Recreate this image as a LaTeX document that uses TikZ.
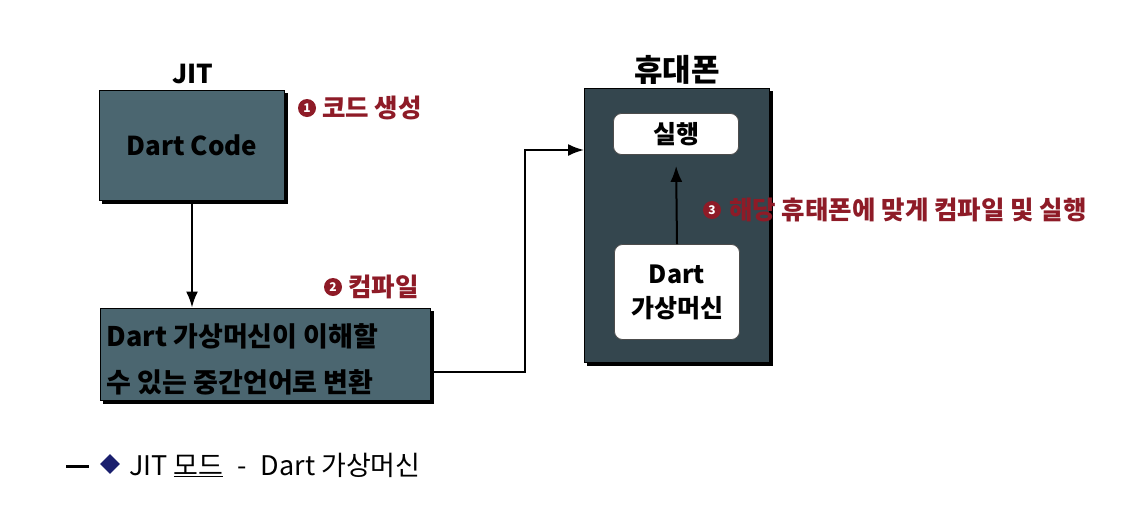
\documentclass[tikz,border=0pt]{standalone}
\usepackage{fontspec}
\setmainfont{Noto Sans CJK KR}
\usetikzlibrary{arrows.meta,shadows,shapes.geometric}
\definecolor{boxteal}{HTML}{4B6670}
\definecolor{phonebox}{HTML}{34464E}
\definecolor{labred}{HTML}{8E1B27}
\definecolor{navy}{HTML}{1A1F6E}
\begin{document}
\begin{tikzpicture}[x=1pt,y=-1pt,
  darkbox/.style={draw=black,line width=1pt,fill=boxteal,
    copy shadow={shadow xshift=3pt,shadow yshift=-3pt,fill=black,draw=black},
    font=\fontsize{26}{30}\selectfont\bfseries, inner sep=0pt},
  whitebox/.style={draw=black!70,line width=0.8pt,fill=white,rounded corners=8pt,
    font=\fontsize{25}{34}\selectfont\bfseries, align=center, inner sep=0pt},
  title/.style={font=\fontsize{26}{30}\selectfont\bfseries},
  conn/.style={line width=2pt,-{Latex[length=16pt,width=12pt]}},
  numdot/.style={circle,fill=labred,inner sep=0pt,minimum size=18pt,
    text=white,font=\fontsize{12}{12}\selectfont\bfseries},
  redlab/.style={text=labred,font=\fontsize{25.5}{29}\selectfont\bfseries,anchor=west,inner sep=0pt}
]
\useasboundingbox (0,0) rectangle (1142,504);
\fill[white] (0,0) rectangle (1142,504);

% JIT side
\node[title] (jit) at (193,74) {JIT};
\node[darkbox,minimum width=185pt,minimum height=110pt] (code) at (192,145) {Dart Code};
\node[darkbox,minimum width=330pt,minimum height=92pt] (vmtext) at (265,354) {};
\node[anchor=west,inner sep=0pt,align=left,font=\fontsize{27}{46}\selectfont\bfseries]
  (vmlines) at ([xshift=7pt,yshift=-5pt]vmtext.west)
  {Dart 가상머신이 이해할\\수 있는 중간언어로 변환};

% phone side
\node[title,font=\fontsize{31}{34}\selectfont\bfseries] (phonelab) at (677,70) {휴대폰};
\node[darkbox,fill=phonebox,minimum width=185pt,minimum height=274pt] (phone) at (677,225) {};
\node[whitebox,minimum width=125pt,minimum height=41pt] (exec) at (676,134) {실행};
\node[whitebox,minimum width=125pt,minimum height=95pt] (vm) at (677,292) {Dart\\가상머신};

% connectors
\draw[conn] (code.south) -- (code.south |- vmtext.north);
\coordinate (outpt) at ([yshift=-18pt]vmtext.east);
\coordinate (inpt) at ([yshift=75pt]phone.west);
\draw[conn] (outpt) -- (525,372) |- (inpt);
\draw[conn,shorten >=11pt] (vm.north) -- (exec.south);

% red step labels
\node[numdot] (n1) at (307,108) {1};
\node[redlab] (l1) at (322,108) {코드 생성};
\node[numdot] (n2) at (333,287) {2};
\node[redlab] (l2) at (348,287) {컴파일};
\node[numdot] (n3) at (712,210) {3};
\node[redlab] (l3) at (729,210) {해당 휴태폰에 맞게 컴파일 및 실행};

% legend
\draw[line width=3pt] (66,466) -- (89,466);
\node[diamond,fill=navy,inner sep=0pt,minimum size=20pt] (dia) at (110,464) {};
\node[anchor=west,inner sep=0pt,font=\fontsize{27}{30}\selectfont] (leg) at (129,465)
  {JIT \underline{모드}\hspace{14pt}-\hspace{14pt}Dart 가상머신};
\end{tikzpicture}
\end{document}
